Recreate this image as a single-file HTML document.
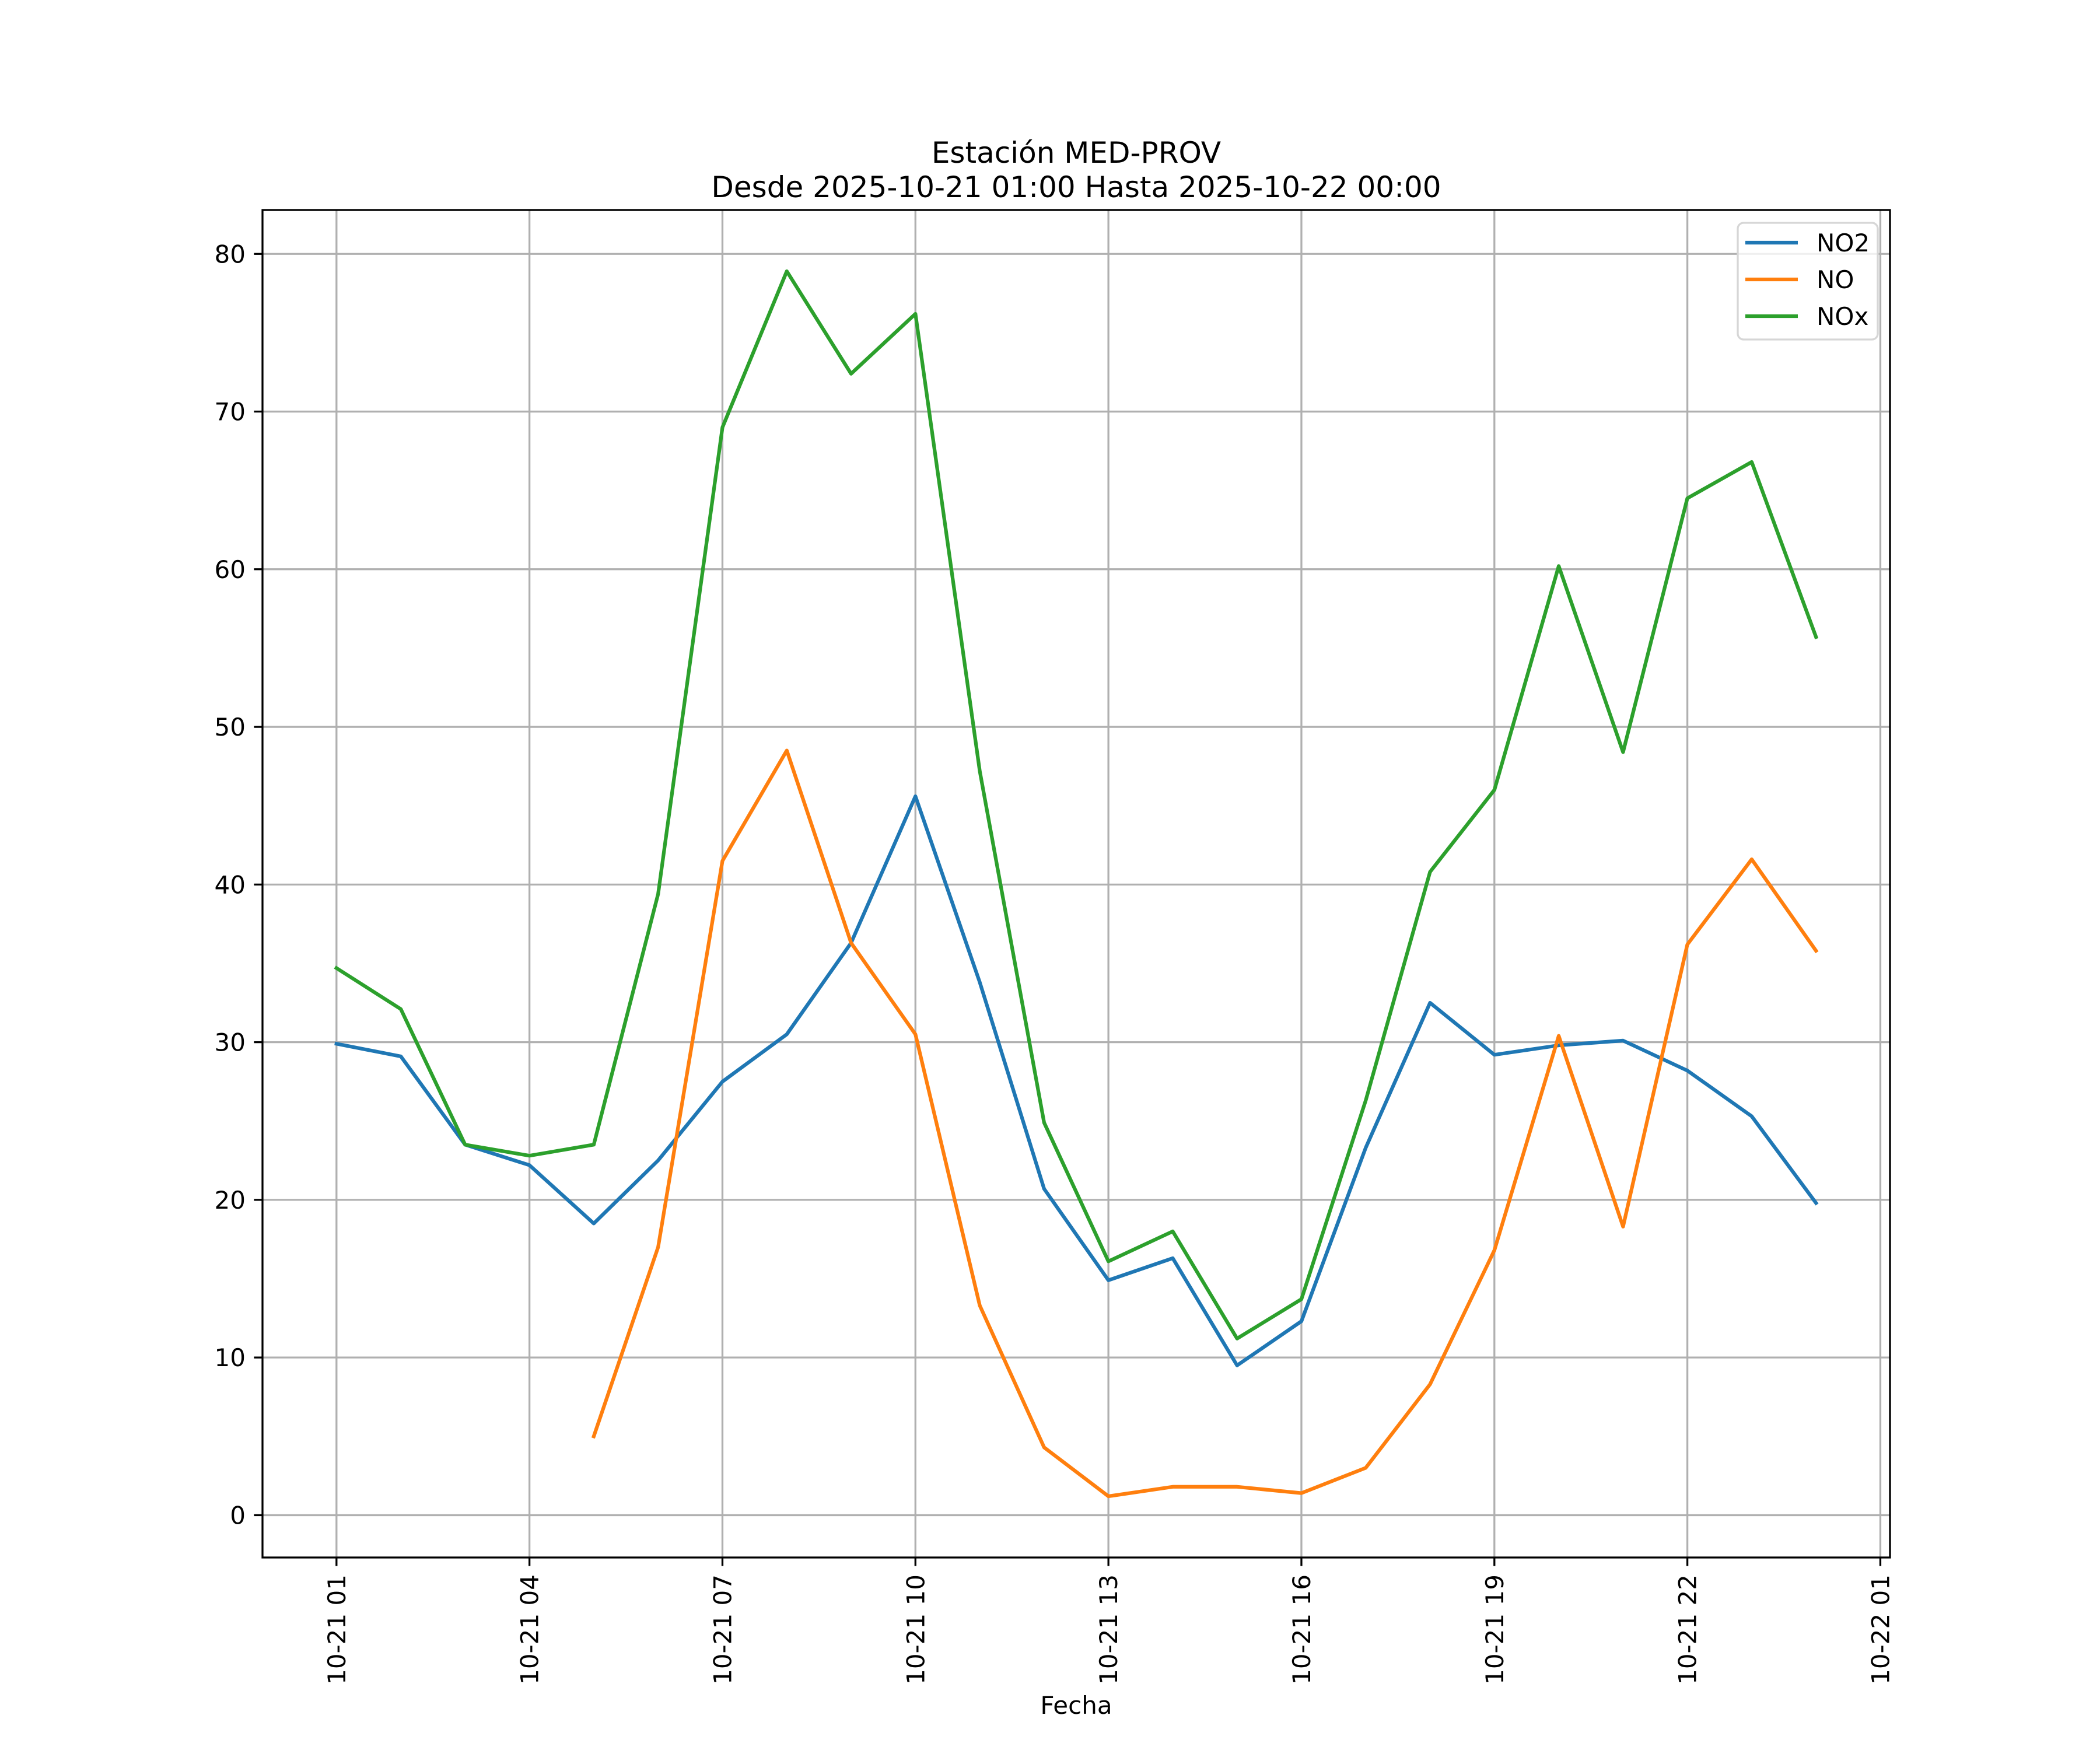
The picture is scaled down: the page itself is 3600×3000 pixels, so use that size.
<!DOCTYPE html>
<html><head><meta charset="utf-8"><style>html,body{margin:0;padding:0;background:#fff}svg{display:block}text{font-family:"DejaVu Sans","Liberation Sans",sans-serif;fill:#000}</style></head>
<body>
<svg id="chart" width="3600" height="3000" viewBox="0 0 3600 3000" xmlns="http://www.w3.org/2000/svg">
<rect width="3600" height="3000" fill="#fff"/>
<g id="grid"></g>
<g id="series"></g>
<rect x="450" y="360" width="2790" height="2310" fill="none" stroke="#000" stroke-width="3.3"/>
<g id="axes"></g>
<text x="1845" y="279" font-size="50" text-anchor="middle">Estación MED-PROV</text>
<text x="1845" y="338" font-size="50" text-anchor="middle">Desde 2025-10-21 01:00 Hasta 2025-10-22 00:00</text>
<text x="1845" y="2938" font-size="42" text-anchor="middle">Fecha</text>
<g>
<rect x="2979" y="382" width="240" height="200" rx="10" fill="#fff" fill-opacity="0.8" stroke="#d6d6d6" stroke-width="3.3"/>
<line x1="2992" y1="416" x2="3082" y2="416" stroke="#1f77b4" stroke-width="6.25"/>
<text x="3114" y="431" font-size="42">NO2</text>
<line x1="2992" y1="479" x2="3082" y2="479" stroke="#ff7f0e" stroke-width="6.25"/>
<text x="3114" y="494" font-size="42">NO</text>
<line x1="2992" y1="542" x2="3082" y2="542" stroke="#2ca02c" stroke-width="6.25"/>
<text x="3114" y="557" font-size="42">NOx</text>
</g>
</svg>
<script>
const hours = [0,1,2,3,4,5,6,7,8,9,10,11,12,13,14,15,16,17,18,19,20,21,22,23];
const no2 = [29.9,29.1,23.5,22.2,18.5,22.5,27.5,30.5,36.3,45.6,33.8,20.7,14.9,16.3,9.5,12.3,23.3,32.5,29.2,29.8,30.1,28.2,25.3,19.8];
const no = [null,null,null,null,5.0,17.0,41.5,48.5,36.3,30.5,13.3,4.3,1.2,1.8,1.8,1.4,3.0,8.3,16.8,30.4,18.3,36.2,41.6,35.8];
const nox = [34.7,32.1,23.5,22.8,23.5,39.4,69.0,78.9,72.4,76.2,47.2,24.9,16.1,18.0,11.2,13.7,26.3,40.8,46.0,60.2,48.4,64.5,66.8,55.7];
const xTickHours = [0,3,6,9,12,15,18,21,24];
const xTickLabels = ["10-21 01","10-21 04","10-21 07","10-21 10","10-21 13","10-21 16","10-21 19","10-21 22","10-22 01"];
const yTicks = [0,10,20,30,40,50,60,70,80];

const NS="http://www.w3.org/2000/svg";
const L=450,R=3240,T=360,B=2670;
const xMin=-1.15,xMax=24.15,yMin=-2.685,yMax=82.785;
function xs(h){return L+(h-xMin)/(xMax-xMin)*(R-L);}
function ys(v){return B-(v-yMin)/(yMax-yMin)*(B-T);}
function mk(tag,attrs,parent){const e=document.createElementNS(NS,tag);for(const k in attrs)e.setAttribute(k,attrs[k]);parent.appendChild(e);return e;}
const grid=document.getElementById('grid'),axes=document.getElementById('axes'),series=document.getElementById('series');
xTickHours.forEach((h,i)=>{
  const x=xs(h);
  const g=mk('line',{x1:x,y1:T,x2:x,y2:B,stroke:'#b0b0b0','stroke-width':3.3},grid);
  
  
  const t=mk('line',{x1:x,y1:B,x2:x,y2:B+14.6,stroke:'#000','stroke-width':3.3},axes);
  
  
  const lb=mk('text',{x:0,y:0,'font-size':42,'text-anchor':'end',transform:`translate(${x+15},${B+29}) rotate(-90)`},axes);
  lb.textContent=xTickLabels[i];
  
  
});
yTicks.forEach(v=>{
  const y=ys(v);
  const g=mk('line',{x1:L,y1:y,x2:R,y2:y,stroke:'#b0b0b0','stroke-width':3.3},grid);
  
  
  const t=mk('line',{x1:L-14.6,y1:y,x2:L,y2:y,stroke:'#000','stroke-width':3.3},axes);
  
  
  const lb=mk('text',{x:L-29,y:y+15,'font-size':42,'text-anchor':'end'},axes);
  lb.textContent=String(v);
  
  
});
function drawLine(vals,color,name){
  let d='',pen=false;
  vals.forEach((v,i)=>{
    if(v===null){pen=false;return;}
    d+=(pen?'L':'M')+xs(hours[i]).toFixed(1)+' '+ys(v).toFixed(1)+' ';pen=true;
  });
  const p=mk('path',{d:d,fill:'none',stroke:color,'stroke-width':6.25,'stroke-linejoin':'round','stroke-linecap':'square'},series);
  
  
}
drawLine(no2,'#1f77b4','no2-line');
drawLine(no,'#ff7f0e','no-line');
drawLine(nox,'#2ca02c','nox-line');
</script>
</body></html>
